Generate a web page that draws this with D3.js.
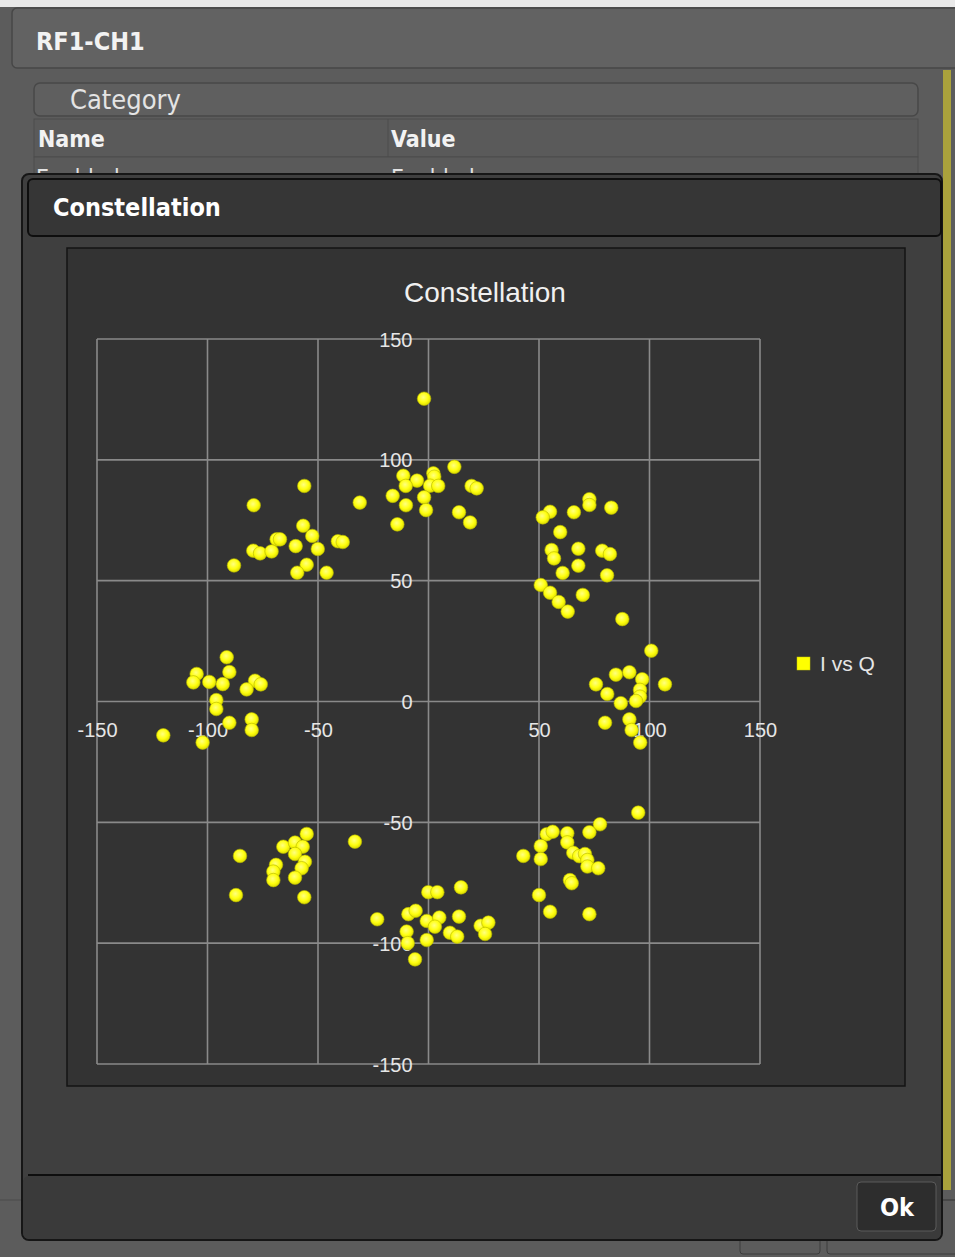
<!DOCTYPE html>
<html>
<head>
<meta charset="utf-8">
<script src="https://cdn.jsdelivr.net/npm/d3@7"></script>
<style>
  html, body { margin: 0; padding: 0; background: #5c5c5c; }
  svg { display: block; }
</style>
</head>
<body>
<svg id="app" width="955" height="1257"></svg>
<script>
// Constellation samples: in-phase (I) and quadrature (Q) components
const iValues = [
  -56.2, -79.1, -31.1, -56.7, -52.6, -68.7, -67.2, -41.0, -38.8, -60.1, -50.1, -79.3, -76.2, -71.0, -88.0, -55.1, -59.4, -46.1,
  -2.0, 11.7, -11.4, -5.2, 2.2, 2.6, 0.7, 4.4, -10.3, 19.5, 21.8, -16.2, -2.0, -10.2, -1.1, 13.8, 18.8, -14.1,
  72.8, 72.8, 82.7, 55.0, 51.7, 65.8, 59.6, 55.7, 56.8, 67.8, 78.6, 82.1, 67.8, 60.7, 80.8, 50.8, 55.0, 69.8, 58.9, 63.0, 87.7,
  -91.3, -90.1, -104.9, -106.4, -99.2, -93.1, -78.5, -75.9, -82.3, -96.0, -96.0, -90.1, -80.0, -80.0, -120.0, -102.2,
  100.8, 84.8, 90.9, 96.7, 107.0, 75.8, 80.9, 95.7, 95.7, 87.0, 93.9, 79.9, 90.9, 91.9, 95.8,
  -55.1, -33.3, -65.7, -60.4, -56.9, -60.4, -85.3, -55.9, -57.4, -69.0, -70.2, -70.2, -60.4, -87.1, -56.2,
  -0.1, 4.0, 14.7, -9.1, -5.8, -23.2, -0.8, 4.9, 2.9, 13.8, 9.7, 13.0, 23.6, 27.1, 25.6, -9.9, -0.8, -9.4, -6.1,
  94.9, 77.6, 72.8, 53.5, 56.2, 62.8, 62.8, 50.8, 42.9, 50.8, 65.5, 68.2, 70.8, 71.9, 71.9, 76.8, 64.0, 64.8, 50.0, 55.0, 72.8
];
const qValues = [
  89.2, 81.2, 82.3, 72.7, 68.5, 67.1, 67.1, 66.3, 66.0, 64.3, 63.1, 62.4, 61.3, 62.1, 56.3, 56.6, 53.3, 53.3,
  125.3, 97.1, 93.4, 91.4, 94.4, 93.0, 89.3, 89.2, 89.2, 89.2, 88.2, 85.1, 84.5, 81.2, 79.2, 78.3, 74.1, 73.3,
  83.7, 81.3, 80.2, 78.5, 76.2, 78.3, 70.1, 62.7, 59.2, 63.2, 62.4, 61.0, 56.2, 53.2, 52.2, 48.2, 45.0, 44.1, 41.2, 37.2, 34.1,
  18.3, 12.2, 11.4, 7.9, 8.1, 7.2, 8.6, 7.1, 5.0, 0.6, -3.1, -8.8, -7.4, -11.8, -14.0, -17.0,
  21.0, 11.1, 12.1, 9.2, 7.1, 7.1, 3.1, 4.8, 2.0, -0.7, 0.2, -8.8, -7.4, -11.8, -17.0,
  -54.8, -58.0, -60.1, -58.4, -60.1, -63.1, -63.9, -66.3, -69.0, -67.6, -70.4, -73.9, -72.9, -80.1, -81.0,
  -78.9, -78.9, -76.9, -88.0, -86.6, -90.1, -90.8, -89.4, -93.2, -89.0, -95.7, -97.3, -92.8, -91.5, -96.2, -95.2, -98.7, -100.0, -106.7,
  -46.0, -50.8, -54.1, -54.9, -53.9, -54.5, -58.3, -59.8, -63.9, -65.2, -62.6, -64.0, -63.1, -65.6, -68.3, -69.0, -73.9, -75.2, -80.1, -87.0, -88.0
];
const tickValues = [-150, -100, -50, 0, 50, 100, 150];
const seriesName = "I vs Q";
const chartTitle = "Constellation";

const points = iValues.map((v, k) => ({ i: v, q: qValues[k] }));

const svg = d3.select("#app");
const uiFont = "'DejaVu Sans Condensed', 'Liberation Sans Narrow', 'DejaVu Sans', sans-serif";
const chartFont = "'Liberation Sans', Arial, sans-serif";
const plainNumber = d => String(d);   // ASCII hyphen for negatives

// ---------- background window ----------
svg.append("rect").attr("x", 0).attr("y", 0).attr("width", 955).attr("height", 1257).attr("fill", "#5c5c5c");
svg.append("rect").attr("x", 0).attr("y", 0).attr("width", 955).attr("height", 7).attr("fill", "#e9e9e9");

// title bar of the channel panel
svg.append("rect").attr("x", 12).attr("y", 8).attr("width", 950).attr("height", 60).attr("rx", 5)
  .attr("fill", "#626262").attr("stroke", "#474747").attr("stroke-width", 1.5);
svg.append("text").attr("x", 36).attr("y", 50).text("RF1-CH1")
  .attr("font-family", uiFont).attr("font-weight", "bold").attr("font-size", 25).attr("fill", "#f2f2f2");

// olive accent strip at the right edge
svg.append("rect").attr("x", 943).attr("y", 70).attr("width", 8).attr("height", 1120).attr("fill", "#aaa23c");

// category header
svg.append("rect").attr("x", 34).attr("y", 83).attr("width", 884).attr("height", 33).attr("rx", 6)
  .attr("fill", "#5f5f5f").attr("stroke", "#484848").attr("stroke-width", 1.5);
svg.append("text").attr("x", 70).attr("y", 109).text("Category")
  .attr("font-family", uiFont).attr("font-size", 27).attr("fill", "#e4e4e4");

// property table header + first row
svg.append("rect").attr("x", 34).attr("y", 119).attr("width", 884).attr("height", 38)
  .attr("fill", "#5a5a5a").attr("stroke", "#4c4c4c").attr("stroke-width", 1);
svg.append("line").attr("x1", 388).attr("x2", 388).attr("y1", 119).attr("y2", 180).attr("stroke", "#4c4c4c");
svg.append("text").attr("x", 38).attr("y", 147).text("Name")
  .attr("font-family", uiFont).attr("font-weight", "bold").attr("font-size", 23).attr("fill", "#f2f2f2");
svg.append("text").attr("x", 391).attr("y", 147).text("Value")
  .attr("font-family", uiFont).attr("font-weight", "bold").attr("font-size", 23).attr("fill", "#f2f2f2");
svg.append("rect").attr("x", 34).attr("y", 157).attr("width", 884).attr("height", 25)
  .attr("fill", "#5a5a5a").attr("stroke", "#4c4c4c").attr("stroke-width", 1);
svg.append("text").attr("x", 36).attr("y", 186).text("Enabled")
  .attr("font-family", uiFont).attr("font-size", 23).attr("fill", "#e4e4e4");
svg.append("text").attr("x", 391).attr("y", 186).text("Enabled")
  .attr("font-family", uiFont).attr("font-size", 23).attr("fill", "#e4e4e4");

// buttons peeking out beneath the dialog
svg.append("line").attr("x1", 0).attr("x2", 955).attr("y1", 1200).attr("y2", 1200).attr("stroke", "#4a4a4a");
svg.append("rect").attr("x", 740).attr("y", 1200).attr("width", 80).attr("height", 54).attr("rx", 3)
  .attr("fill", "none").attr("stroke", "#3c3c3c");
svg.append("rect").attr("x", 827).attr("y", 1200).attr("width", 140).attr("height", 54).attr("rx", 3)
  .attr("fill", "none").attr("stroke", "#3c3c3c");

// ---------- modal dialog ----------
svg.append("rect").attr("x", 22).attr("y", 174).attr("width", 920).attr("height", 1066).attr("rx", 7)
  .attr("fill", "#3f3f3f").attr("stroke", "#161616").attr("stroke-width", 2);
svg.append("rect").attr("x", 28).attr("y", 179).attr("width", 913).attr("height", 57).attr("rx", 5)
  .attr("fill", "#363636").attr("stroke", "#0e0e0e").attr("stroke-width", 2);
svg.append("text").attr("x", 53).attr("y", 216).text("Constellation")
  .attr("font-family", uiFont).attr("font-weight", "bold").attr("font-size", 25).attr("fill", "#ffffff");

// footer
svg.append("rect").attr("x", 23).attr("y", 1176).attr("width", 918).attr("height", 63).attr("rx", 6)
  .attr("fill", "#3a3a3a");
svg.append("line").attr("x1", 28).attr("x2", 941).attr("y1", 1175).attr("y2", 1175)
  .attr("stroke", "#0e0e0e").attr("stroke-width", 2);
svg.append("rect").attr("x", 857).attr("y", 1182).attr("width", 79).attr("height", 49).attr("rx", 4)
  .attr("fill", "#2d2d2d").attr("stroke", "#5a5a5a").attr("stroke-width", 1);
svg.append("text").attr("x", 897).attr("y", 1216).attr("text-anchor", "middle").text("Ok")
  .attr("font-family", uiFont).attr("font-weight", "bold").attr("font-size", 25).attr("fill", "#ffffff");

// ---------- chart panel ----------
svg.append("rect").attr("x", 67).attr("y", 248).attr("width", 838).attr("height", 838)
  .attr("fill", "#333333").attr("stroke", "#141414").attr("stroke-width", 1.5);

svg.append("text").attr("x", 485).attr("y", 302).attr("text-anchor", "middle").text(chartTitle)
  .attr("font-family", chartFont).attr("font-size", 28).attr("fill", "#f0f0f0");

const x = d3.scaleLinear().domain([-150, 150]).range([97, 760]);
const y = d3.scaleLinear().domain([-150, 150]).range([1064, 339]);

const plot = svg.append("g");

// gridlines
plot.append("g").selectAll("line").data(tickValues).join("line")
  .attr("x1", d => x(d)).attr("x2", d => x(d)).attr("y1", y(150)).attr("y2", y(-150))
  .attr("stroke", "#8a8a8a").attr("stroke-width", 1.6);
plot.append("g").selectAll("line").data(tickValues).join("line")
  .attr("y1", d => y(d)).attr("y2", d => y(d)).attr("x1", x(-150)).attr("x2", x(150))
  .attr("stroke", "#8a8a8a").attr("stroke-width", 1.6);

// axes cross at the origin
const xAxis = d3.axisBottom(x).tickValues(tickValues).tickFormat(plainNumber).tickSize(0).tickPadding(0);
const gx = plot.append("g").attr("transform", `translate(0,${y(0)})`).call(xAxis);
gx.select(".domain").remove();
gx.selectAll("text").attr("dy", "0").attr("y", 35)
  .attr("font-family", chartFont).attr("font-size", 20).attr("fill", "#e6e6e6");

const yAxis = d3.axisLeft(y).tickValues(tickValues).tickFormat(plainNumber).tickSize(0).tickPadding(0);
const gy = plot.append("g").attr("transform", `translate(${x(0) - 16},0)`).call(yAxis);
gy.select(".domain").remove();
gy.selectAll("text").attr("dy", "0.35em")
  .attr("font-family", chartFont).attr("font-size", 20).attr("fill", "#e6e6e6");
// the "0" label along x is shared with the y axis; keep the y one only
gx.selectAll(".tick").filter(d => d === 0).remove();

// glowing yellow markers
const defs = svg.append("defs");
const grad = defs.append("radialGradient").attr("id", "dot").attr("cx", "45%").attr("cy", "40%").attr("r", "60%");
grad.append("stop").attr("offset", "0%").attr("stop-color", "#ffff80");
grad.append("stop").attr("offset", "60%").attr("stop-color", "#ffff10");
grad.append("stop").attr("offset", "100%").attr("stop-color", "#dcdc00");

plot.append("g").selectAll("circle").data(points).join("circle")
  .attr("cx", d => x(d.i)).attr("cy", d => y(d.q)).attr("r", 6.8)
  .attr("fill", "url(#dot)").attr("stroke", "#b8b800").attr("stroke-width", 0.6);

// legend
const legend = svg.append("g").attr("transform", "translate(797,657)");
legend.append("rect").attr("width", 13).attr("height", 13).attr("fill", "#ffff00").attr("stroke", "#c8c800").attr("stroke-width", 0.5);
legend.append("text").attr("x", 23).attr("y", 14).text(seriesName)
  .attr("font-family", chartFont).attr("font-size", 21).attr("fill", "#e6e6e6");
</script>
</body>
</html>
